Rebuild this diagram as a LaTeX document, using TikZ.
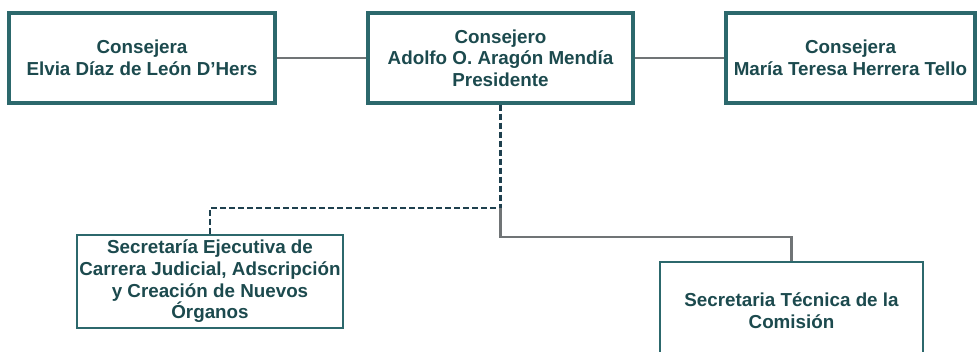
\documentclass[tikz,border=0pt]{standalone}
\usepackage{fontspec}
\setmainfont{Liberation Sans}
\definecolor{boxc}{RGB}{44,104,108}
\definecolor{txtc}{RGB}{28,74,78}
\definecolor{connc}{RGB}{112,116,118}
\definecolor{dashc}{RGB}{30,64,78}
\begin{document}
\begin{tikzpicture}[x=1pt,y=-1pt,
  box/.style={draw=boxc, line width=3.2pt, fill=white, align=center,
    font=\bfseries\fontsize{18.8}{21.7}\selectfont, text=txtc, inner sep=0pt},
  lowbox/.style={box, line width=2.4pt},
  conn/.style={draw=connc, line width=2.4pt},
  dashline/.style={draw=dashc, line width=2.6pt, dash pattern=on 6pt off 3pt}]
\useasboundingbox (0,0) rectangle (977,352);
\clip (0,0) rectangle (977,352);
\fill[white] (0,0) rectangle (977,352);
\node[box, minimum width=266pt, minimum height=90pt] (b1) at (142,58)
  {Consejera\\Elvia Díaz de León D’Hers};
\node[box, minimum width=265pt, minimum height=90pt] (b2) at (500.5,58)
  {Consejero\\Adolfo O. Aragón Mendía\\Presidente};
\node[box, minimum width=249pt, minimum height=90pt] (b3) at (850.5,58)
  {Consejera\\María Teresa Herrera Tello};
\node[lowbox, minimum width=266pt, minimum height=93pt] (b4) at (210,281.5)
  {Secretaría Ejecutiva de\\Carrera Judicial, Adscripción\\y Creación de Nuevos\\Órganos};
\node[lowbox, minimum width=263pt, minimum height=98pt] (b5) at (791.5,311)
  {Secretaria Técnica de la\\Comisión};
\coordinate (split) at (500.5,208);
\coordinate (elbow) at (500.5,237);
\draw[conn] (b1.east) -- (b2.west);
\draw[conn] (b2.east) -- (b3.west);
\draw[dashline] (b2.south) -- (split) -| (b4.north);
\draw[conn] (split) -- (elbow) -| (b5.north);
\end{tikzpicture}
\end{document}
